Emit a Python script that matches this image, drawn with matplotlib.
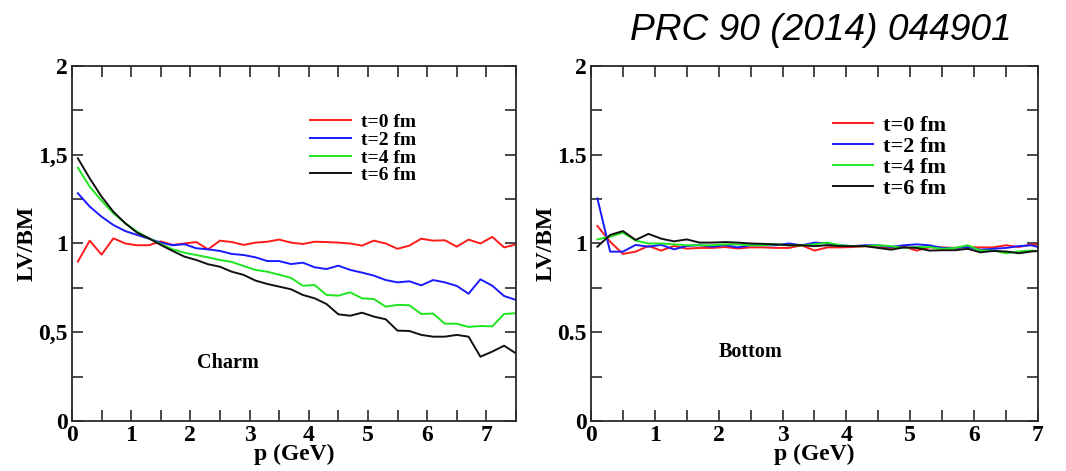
import numpy as np
import matplotlib.pyplot as plt
from matplotlib.ticker import MultipleLocator, FixedFormatter, FixedLocator

# momentum grid (GeV)
p_charm = np.arange(0.1, 7.55, 0.2)
p_bottom = np.arange(0.1, 7.15, 0.2)

# LV/BM ratio for charm at t = 0, 2, 4, 6 fm
charm_t0 = [0.898, 1.016, 0.937, 1.029, 1.0, 0.99, 0.99, 1.012, 0.992, 1.0,
            1.008, 0.967, 1.016, 1.008, 0.992, 1.005, 1.01, 1.022, 1.005, 0.997,
            1.01, 1.008, 1.005, 1.0, 0.988, 1.016, 1.0, 0.97, 0.988, 1.027,
            1.016, 1.018, 0.982, 1.022, 1.0, 1.037, 0.978, 0.995]
charm_t2 = [1.283, 1.208, 1.151, 1.104, 1.07, 1.048, 1.027, 1.005, 0.99, 0.996,
            0.973, 0.967, 0.958, 0.941, 0.935, 0.922, 0.901, 0.901, 0.884, 0.892,
            0.866, 0.856, 0.875, 0.851, 0.836, 0.819, 0.794, 0.781, 0.787, 0.764,
            0.794, 0.781, 0.761, 0.717, 0.798, 0.762, 0.704, 0.682]
charm_t4 = [1.427, 1.32, 1.241, 1.17, 1.114, 1.067, 1.029, 0.997, 0.967, 0.948,
            0.935, 0.922, 0.907, 0.896, 0.873, 0.851, 0.841, 0.824, 0.806, 0.762,
            0.766, 0.71, 0.706, 0.725, 0.691, 0.687, 0.644, 0.654, 0.652, 0.603,
            0.605, 0.548, 0.548, 0.53, 0.535, 0.533, 0.603, 0.607]
charm_t6 = [1.48, 1.367, 1.264, 1.179, 1.114, 1.061, 1.029, 0.992, 0.958, 0.926,
            0.907, 0.883, 0.869, 0.841, 0.823, 0.791, 0.772, 0.757, 0.742, 0.71,
            0.691, 0.659, 0.601, 0.593, 0.61, 0.588, 0.573, 0.509, 0.507, 0.485,
            0.475, 0.475, 0.485, 0.475, 0.362, 0.391, 0.424, 0.381]

# LV/BM ratio for bottom
bottom_t0 = [1.099, 1.01, 0.941, 0.954, 0.986, 0.96, 0.986, 0.971, 0.975, 0.975,
             0.98, 0.972, 0.978, 0.978, 0.975, 0.975, 0.99, 0.96, 0.978, 0.978,
             0.98, 0.985, 0.978, 0.975, 0.982, 0.96, 0.978, 0.978, 0.975, 0.98,
             0.978, 0.978, 0.99, 0.98, 0.995, 0.99]
bottom_t2 = [1.254, 0.954, 0.954, 0.992, 0.982, 0.992, 0.967, 0.986, 0.99, 0.982,
             0.99, 0.978, 0.99, 0.99, 0.99, 1.0, 0.99, 1.005, 1.0, 0.99,
             0.985, 0.99, 0.99, 0.98, 0.99, 0.995, 0.99, 0.975, 0.975, 0.98,
             0.965, 0.97, 0.975, 0.985, 0.99, 0.97]
bottom_t4 = [1.023, 1.038, 1.061, 1.016, 1.0, 1.0, 0.995, 0.99, 0.99, 0.99,
             0.995, 0.995, 0.99, 0.99, 0.995, 0.99, 0.99, 0.995, 1.005, 0.99,
             0.985, 0.985, 0.99, 0.985, 0.975, 0.98, 0.98, 0.97, 0.975, 0.99,
             0.96, 0.96, 0.945, 0.955, 0.96, 0.955]
bottom_t6 = [0.982, 1.048, 1.07, 1.02, 1.054, 1.027, 1.012, 1.023, 1.005, 1.005,
             1.008, 1.005, 1.0, 0.998, 0.995, 0.99, 0.99, 0.985, 0.99, 0.985,
             0.985, 0.985, 0.975, 0.965, 0.978, 0.975, 0.96, 0.962, 0.962, 0.97,
             0.95, 0.958, 0.955, 0.945, 0.955, 0.96]

labels = ['t=0 fm', 't=2 fm', 't=4 fm', 't=6 fm']
colors = ['#ff1a1a', '#1a1aff', '#1ee61e', '#111111']
yticks = [0, 0.5, 1, 1.5, 2]
yticklabels_charm = ['0', '0,5', '1', '1,5', '2']
yticklabels_bottom = ['0', '0.5', '1', '1.5', '2']

serif = 'Liberation Serif'
edge = '#2a2a2a'

fig = plt.figure(figsize=(10.66, 4.71), dpi=100)
ax1 = fig.add_axes([0.0675, 0.1062, 0.4165, 0.7537])
ax2 = fig.add_axes([0.5544, 0.1062, 0.4193, 0.7537])


def style_axes(ax, xmax, yticklabels, label_x):
    ax.set_xlim(0, xmax)
    ax.set_ylim(0, 2)
    ax.xaxis.set_major_locator(MultipleLocator(1))
    ax.xaxis.set_minor_locator(MultipleLocator(0.5))
    ax.yaxis.set_major_locator(FixedLocator(yticks))
    ax.yaxis.set_major_formatter(FixedFormatter(yticklabels))
    ax.yaxis.set_minor_locator(MultipleLocator(0.25))
    ax.tick_params(which='both', direction='in', top=True, right=True,
                   length=8, width=1.2, color=edge)
    ax.tick_params(axis='x', pad=3)
    ax.tick_params(axis='y', pad=3)
    for lab in ax.get_xticklabels() + ax.get_yticklabels():
        lab.set_fontfamily(serif)
        lab.set_fontweight('bold')
        lab.set_fontsize(17)
    for s in ax.spines.values():
        s.set_color(edge)
        s.set_linewidth(1.3)
    ax.set_xlabel('p (GeV)', fontfamily=serif, fontweight='bold', fontsize=17)
    ax.set_ylabel('LV/BM', fontfamily=serif, fontweight='bold', fontsize=17)
    ax.xaxis.set_label_coords(0.5, -0.065)
    ax.yaxis.set_label_coords(label_x, 0.5)


for y, lab, c in zip([charm_t0, charm_t2, charm_t4, charm_t6], labels, colors):
    ax1.plot(p_charm, y, color=c, lw=1.4, label=lab)
for y, lab, c in zip([bottom_t0, bottom_t2, bottom_t4, bottom_t6], labels, colors):
    ax2.plot(p_bottom, y, color=c, lw=1.4, label=lab)

style_axes(ax1, 7.5, yticklabels_charm, -0.077)
style_axes(ax2, 7.0, yticklabels_bottom, -0.078)

ax1.legend(loc='upper left', bbox_to_anchor=(0.514, 0.893), frameon=False,
           borderpad=0, handlelength=2.1, handletextpad=0.55, labelspacing=0.0,
           prop={'family': serif, 'weight': 'bold', 'size': 14})
ax2.legend(loc='upper left', bbox_to_anchor=(0.517, 0.892), frameon=False,
           borderpad=0, handlelength=1.8, handletextpad=0.45, labelspacing=0.02,
           prop={'family': serif, 'weight': 'bold', 'size': 16})

ax1.text(0.351, 0.163, 'Charm', transform=ax1.transAxes, ha='center', va='center',
         fontfamily=serif, fontweight='bold', fontsize=14.5)
ax2.text(0.356, 0.194, 'Bottom', transform=ax2.transAxes, ha='center', va='center',
         fontfamily=serif, fontweight='bold', fontsize=14.5)

fig.text(630 / 1066, 1 - 31 / 471, 'PRC 90 (2014) 044901', ha='left', va='center',
         fontfamily='Liberation Sans', fontstyle='italic', fontsize=26.7)

plt.savefig('out.png', dpi=100)
